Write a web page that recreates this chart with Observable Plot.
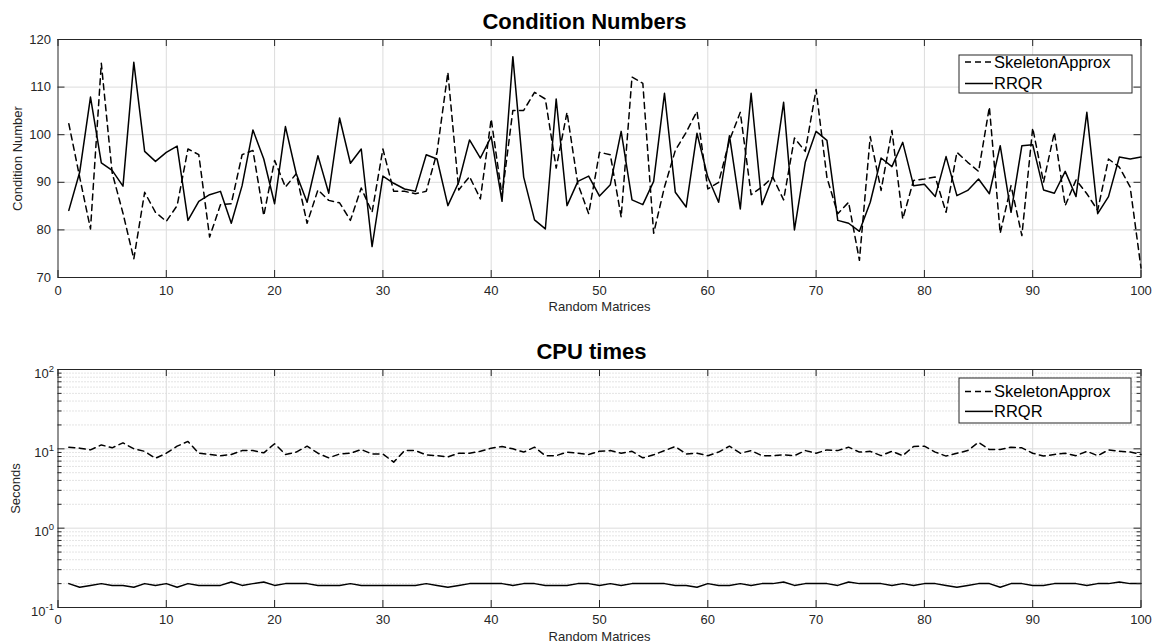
<!DOCTYPE html>
<html>
<head>
<meta charset="utf-8">
<script src="https://cdn.jsdelivr.net/npm/d3@7"></script>
<script src="https://cdn.jsdelivr.net/npm/@observablehq/plot@0.6"></script>
<style>
  body { margin: 0; background: #fff; }
  #chart svg { display: block; }
</style>
</head>
<body>
<div id="chart"></div>
<script>
// ---------- data ----------
const seriesNames = ["SkeletonApprox", "RRQR"];
const matrixIndex = [1,2,3,4,5,6,7,8,9,10,11,12,13,14,15,16,17,18,19,20,21,22,23,24,25,26,27,28,29,30,31,32,33,34,35,36,37,38,39,40,41,42,43,44,45,46,47,48,49,50,51,52,53,54,55,56,57,58,59,60,61,62,63,64,65,66,67,68,69,70,71,72,73,74,75,76,77,78,79,80,81,82,83,84,85,86,87,88,89,90,91,92,93,94,95,96,97,98,99,100];

const condSkeleton = [102.3,91.1,80.2,115.0,92.0,83.5,73.9,87.9,83.7,81.8,
  85.1,97.0,95.8,78.5,85.3,85.5,95.8,96.7,83.0,94.6,
  89.0,91.8,81.4,88.4,86.2,85.7,82.0,88.8,83.7,97.0,
  88.1,88.1,87.6,88.1,96.3,113.1,88.4,91.2,86.5,103.3,
  87.2,105.1,105.1,108.9,107.5,93.0,104.7,89.7,83.4,96.3,
  95.8,82.7,112.1,110.8,79.3,89.0,96.7,100.5,104.9,88.6,
  90.0,98.8,104.7,87.4,89.0,91.1,86.3,99.3,96.5,109.5,
  91.0,83.4,85.8,73.6,99.6,88.3,100.9,82.3,90.4,90.7,
  91.1,83.7,96.3,94.2,92.3,105.8,79.3,89.3,78.8,101.4,
  90.0,100.5,85.1,90.5,87.6,84.1,94.9,93.2,89.0,72.0];

const condRRQR = [84.1,92.1,107.9,94.1,92.5,89.2,115.2,96.5,94.4,96.3,
  97.6,82.0,86.0,87.4,88.1,81.4,89.3,101.0,94.9,85.5,
  101.7,91.8,85.8,95.6,87.7,103.5,94.0,97.0,76.5,91.3,
  89.8,88.6,88.1,95.8,94.9,85.1,90.0,98.9,95.1,99.6,
  86.0,116.4,91.1,82.1,80.2,107.5,85.1,90.2,91.3,87.1,
  89.5,100.7,86.3,85.3,90.2,108.7,87.9,84.8,100.3,91.1,
  85.8,99.8,84.4,108.7,85.3,91.1,106.8,80.0,94.2,100.7,
  98.8,82.0,81.4,79.7,85.8,95.1,93.3,98.4,89.3,89.6,
  87.0,95.4,87.2,88.3,90.7,87.6,97.7,83.7,97.7,97.9,
  88.4,87.7,92.3,87.0,104.7,83.4,87.0,95.3,94.9,95.3];

const cpuSkeleton = [10.5,10.2,9.7,11.2,10.3,11.9,10.0,9.3,7.6,8.8,
  10.8,12.4,8.8,8.5,8.2,8.5,9.5,9.5,8.9,11.6,
  8.5,9.1,10.8,8.8,7.7,8.6,8.8,9.8,8.6,8.6,
  6.8,9.5,9.5,8.4,8.2,7.9,8.8,8.8,9.3,10.2,
  10.7,10.0,9.1,10.5,8.2,8.2,9.1,8.8,8.5,9.3,
  9.5,8.8,9.3,7.7,8.4,9.5,10.7,8.6,8.8,8.2,
  9.1,10.8,8.8,9.5,8.2,8.2,8.4,8.2,9.5,8.8,
  9.7,9.5,10.5,9.1,9.3,8.2,9.3,8.2,10.7,10.8,
  9.1,8.1,8.8,9.5,12.1,9.8,9.8,10.5,10.3,8.8,
  8.1,8.5,8.8,8.2,9.3,8.2,9.7,9.3,9.1,8.5];

const cpuRRQR = [0.20,0.18,0.19,0.20,0.19,0.19,0.18,0.20,0.19,0.20,
  0.18,0.20,0.19,0.19,0.19,0.21,0.19,0.20,0.21,0.19,
  0.20,0.20,0.20,0.19,0.19,0.19,0.20,0.19,0.19,0.19,
  0.19,0.19,0.19,0.20,0.19,0.18,0.19,0.20,0.20,0.20,
  0.20,0.19,0.20,0.20,0.19,0.19,0.19,0.20,0.20,0.19,
  0.20,0.19,0.20,0.20,0.20,0.20,0.19,0.19,0.18,0.20,
  0.19,0.19,0.20,0.19,0.20,0.20,0.21,0.19,0.20,0.20,
  0.20,0.19,0.21,0.20,0.20,0.20,0.19,0.20,0.19,0.20,
  0.20,0.19,0.18,0.19,0.20,0.20,0.18,0.20,0.20,0.19,
  0.19,0.20,0.20,0.20,0.19,0.20,0.20,0.21,0.20,0.20];

const xTickValues = [0,10,20,30,40,50,60,70,80,90,100];
const condTickValues = [70,80,90,100,110,120];
const cpuTickValues = [0.1,1,10,100];
const cpuMinorValues = [0.2,0.3,0.4,0.5,0.6,0.7,0.8,0.9,2,3,4,5,6,7,8,9,20,30,40,50,60,70,80,90];

const titles = ["Condition Numbers", "CPU times"];
const xLabel = "Random Matrices";
const yLabels = ["Condition Number", "Seconds"];

// ---------- styling ----------
const W = 1153;
const FONT = '"Liberation Sans", Arial, Helvetica, sans-serif';
const AXIS = "#262626";
const GRID = "#dcdcdc";
const PW = 1083, PH = 238;
const DASH = "6,4.5";

function legendMark(o) {
  return (index, scales, values, dims) => {
    const x0 = dims.width - dims.marginRight - o.right;
    const y0 = dims.marginTop + o.top;
    const g = d3.create("svg:g");
    g.append("rect").attr("x", x0).attr("y", y0).attr("width", o.w).attr("height", o.h)
      .attr("fill", "white").attr("stroke", AXIS).attr("stroke-width", 1);
    seriesNames.forEach((name, i) => {
      const cy = y0 + o.rows[i];
      g.append("line").attr("x1", x0 + 6).attr("x2", x0 + 34).attr("y1", cy).attr("y2", cy)
        .attr("stroke", "black").attr("stroke-width", 1.5)
        .attr("stroke-dasharray", i === 0 ? "6,4" : null);
      g.append("text").attr("x", x0 + 35).attr("y", cy).attr("dy", "0.35em")
        .attr("text-anchor", "start")
        .attr("font-size", 16.5).attr("fill", "black").attr("font-family", FONT).text(name);
    });
    return g.node();
  };
}

const topData = matrixIndex.map((m, i) => ({m, skel: condSkeleton[i], rrqr: condRRQR[i]}));
const botData = matrixIndex.map((m, i) => ({m, skel: cpuSkeleton[i], rrqr: cpuRRQR[i]}));

const topPlot = Plot.plot({
  width: W, height: 322,
  marginLeft: 57.5, marginRight: 12.5, marginTop: 39, marginBottom: 45,
  style: {fontFamily: FONT, fontSize: "13px", color: AXIS, background: "white", overflow: "visible"},
  x: {domain: [0, 100]},
  y: {domain: [70, 120]},
  marks: [
    Plot.gridX(xTickValues.slice(1, -1), {stroke: GRID, strokeOpacity: 1}),
    Plot.gridY(condTickValues.slice(1, -1), {stroke: GRID, strokeOpacity: 1}),
    Plot.line(topData, {x: "m", y: "skel", stroke: "black", strokeWidth: 1.5, strokeDasharray: DASH}),
    Plot.line(topData, {x: "m", y: "rrqr", stroke: "black", strokeWidth: 1.5}),
    Plot.tickX(xTickValues, {x: d => d, insetTop: PH - 7, stroke: AXIS}),
    Plot.tickX(xTickValues, {x: d => d, insetBottom: PH - 7, stroke: AXIS}),
    Plot.tickY(condTickValues, {y: d => d, insetRight: PW - 7, stroke: AXIS}),
    Plot.tickY(condTickValues, {y: d => d, insetLeft: PW - 7, stroke: AXIS}),
    Plot.frame({stroke: AXIS}),
    Plot.axisX(xTickValues, {anchor: "bottom", tickSize: 0, tickPadding: 8, label: null}),
    Plot.axisY(condTickValues, {anchor: "left", tickSize: 0, tickPadding: 7, label: null}),
    Plot.text([xLabel], {text: d => d, frameAnchor: "bottom", lineAnchor: "middle", textAnchor: "middle", dy: 29, fontSize: 13, fill: AXIS}),
    Plot.text([yLabels[0]], {text: d => d, frameAnchor: "left", textAnchor: "middle", lineAnchor: "middle", rotate: -90, dx: -40.5, fontSize: 13, fill: AXIS}),
    Plot.text([titles[0]], {text: d => d, frameAnchor: "top", lineAnchor: "middle", textAnchor: "middle", dy: -18, dx: -15, fontSize: 22, fontWeight: "bold", fill: "black"}),
    legendMark({right: 181.5, top: 16, w: 173, h: 38, rows: [7, 28.5]})
  ]
});

const botPlot = Plot.plot({
  width: W, height: 321,
  marginLeft: 57.5, marginRight: 12.5, marginTop: 47, marginBottom: 36,
  style: {fontFamily: FONT, fontSize: "13px", color: AXIS, background: "white", overflow: "visible"},
  x: {domain: [0, 100]},
  y: {type: "log", domain: [0.1, 100]},
  marks: [
    Plot.gridY(cpuMinorValues, {stroke: "#c8c8c8", strokeOpacity: 1, strokeDasharray: "1,2"}),
    Plot.gridX(xTickValues.slice(1, -1), {stroke: GRID, strokeOpacity: 1}),
    Plot.gridY(cpuTickValues.slice(1, -1), {stroke: GRID, strokeOpacity: 1}),
    Plot.line(botData, {x: "m", y: "skel", stroke: "black", strokeWidth: 1.5, strokeDasharray: DASH}),
    Plot.line(botData, {x: "m", y: "rrqr", stroke: "black", strokeWidth: 1.5}),
    Plot.tickX(xTickValues, {x: d => d, insetTop: PH - 7, stroke: AXIS}),
    Plot.tickX(xTickValues, {x: d => d, insetBottom: PH - 7, stroke: AXIS}),
    Plot.tickY(cpuTickValues, {y: d => d, insetRight: PW - 7, stroke: AXIS}),
    Plot.tickY(cpuTickValues, {y: d => d, insetLeft: PW - 7, stroke: AXIS}),
    Plot.tickY(cpuMinorValues, {y: d => d, insetRight: PW - 4, stroke: AXIS}),
    Plot.tickY(cpuMinorValues, {y: d => d, insetLeft: PW - 4, stroke: AXIS}),
    Plot.frame({stroke: AXIS}),
    Plot.axisX(xTickValues, {anchor: "bottom", tickSize: 0, tickPadding: 7, label: null}),
    Plot.axisY(cpuTickValues, {anchor: "left", tickSize: 0, tickPadding: 4, dy: 4, label: null,
      tickFormat: d => "10^" + Math.round(Math.log10(d))}),
    Plot.text([xLabel], {text: d => d, frameAnchor: "bottom", lineAnchor: "middle", textAnchor: "middle", dy: 29, fontSize: 13, fill: AXIS}),
    Plot.text([yLabels[1]], {text: d => d, frameAnchor: "left", textAnchor: "middle", lineAnchor: "middle", rotate: -90, dx: -42.5, fontSize: 13, fill: AXIS}),
    Plot.text([titles[1]], {text: d => d, frameAnchor: "top", lineAnchor: "middle", textAnchor: "middle", dy: -18, dx: -8, fontSize: 22, fontWeight: "bold", fill: "black"}),
    legendMark({right: 181.5, top: 9, w: 172, h: 45, rows: [13.4, 33.4]})
  ]
});

// superscript exponents on the log axis labels
const NS = "http://www.w3.org/2000/svg";
botPlot.querySelectorAll('g[aria-label="y-axis tick label"] text').forEach(t => {
  const parts = t.textContent.split("^");
  if (parts.length !== 2) return;
  t.textContent = "";
  const b = document.createElementNS(NS, "tspan");
  b.textContent = parts[0];
  const e = document.createElementNS(NS, "tspan");
  e.textContent = parts[1];
  e.setAttribute("dy", "-6");
  e.setAttribute("font-size", "9.5");
  t.append(b, e);
});

const chart = document.getElementById("chart");
chart.append(topPlot, botPlot);
</script>
</body>
</html>
